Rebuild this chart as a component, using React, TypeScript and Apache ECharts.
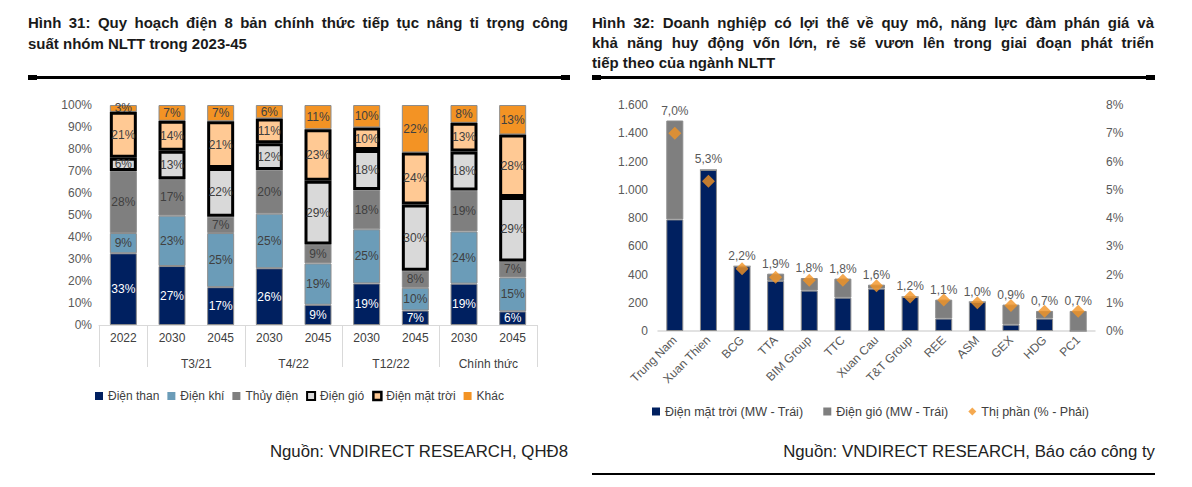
import React, { useEffect, useRef } from "react";
import * as echarts from "echarts";

const FONT = "'Liberation Sans', Arial, sans-serif";

// ---------- Left chart (Hình 31) ----------
const leftYears = ["2022", "2030", "2045", "2030", "2045", "2030", "2045", "2030", "2045"];
const leftGroupNames = ["T3/21", "T4/22", "T12/22", "Chính thức"];
const leftSeriesNames = ["Điện than", "Điện khí", "Thủy điện", "Điện gió", "Điện mặt trời", "Khác"];
const dienThan = [32.6, 26.8, 17.2, 25.8, 9.2, 18.9, 6.6, 18.8, 6.2];
const dienKhi = [9.2, 22.9, 24.6, 24.8, 18.8, 24.6, 10.3, 23.7, 15.4];
const thuyDien = [28.2, 16.6, 7.4, 19.9, 8.6, 17.9, 7.8, 18.6, 7.3];
const dienGio = [6.0, 12.9, 22.2, 12.1, 29.0, 18.1, 30.1, 17.8, 29.3];
const dienMatTroi = [20.9, 13.6, 21.2, 11.3, 23.4, 10.3, 23.6, 13.0, 28.4];
const khac = [3.1, 7.2, 7.4, 6.1, 11.0, 10.2, 21.6, 8.1, 13.4];
const groupBoundaries = [0, 1, 3, 5, 7];

// ---------- Right chart (Hình 32) ----------
const companies = ["Trung Nam", "Xuan Thien", "BCG", "TTA", "BIM Group", "TTC", "Xuan Cau", "T&T Group", "REE", "ASM", "GEX", "HDG", "PC1"];
const solarMW = [790, 1140, 458, 355, 286, 236, 300, 241, 88, 205, 45, 88, 0];
const windMW = [700, 0, 0, 51, 89, 135, 28, 0, 134, 0, 142, 54, 142];
const marketShare = [7.0, 5.3, 2.2, 1.9, 1.8, 1.8, 1.6, 1.2, 1.1, 1.0, 0.9, 0.7, 0.7];
const rightSeriesNames = ["Điện mặt trời (MW - Trái)", "Điện gió (MW - Trái)", "Thị phần (% - Phải)"];

// ---------- Texts ----------
const leftTitle = [
  "Hình 31: Quy hoạch điện 8 bản chính thức tiếp tục nâng tỉ trọng công",
  "suất nhóm NLTT trong 2023-45",
];
const rightTitle = [
  "Hình 32: Doanh nghiệp có lợi thế về quy mô, năng lực đàm phán giá và",
  "khả năng huy động vốn lớn, rẻ sẽ vươn lên trong giai đoạn phát triển",
  "tiếp theo của ngành NLTT",
];
const leftSource = "Nguồn: VNDIRECT RESEARCH, QHĐ8";
const rightSource = "Nguồn: VNDIRECT RESEARCH, Báo cáo công ty";

const C = {
  navy: "#002060",
  steel: "#6B9CB8",
  gray: "#7F7F7F",
  light: "#D9D9D9",
  peach: "#FFC994",
  orange: "#F39324",
  axis: "#D9D9D9",
  tick: "#595959",
  text: "#404040",
};

const TITLE_FONT = "bold 15px " + FONT;

function thousands(v: number) {
  return String(v).replace(/\B(?=(\d{3})+(?!\d))/g, ".");
}

let measureCtx: CanvasRenderingContext2D | null = null;
function measure(text: string, font: string) {
  if (!measureCtx) measureCtx = document.createElement("canvas").getContext("2d");
  if (!measureCtx) return text.length * 8;
  measureCtx.font = font;
  return measureCtx.measureText(text).width;
}

function titleText(text: string, x: number, y: number) {
  return {
    type: "text",
    x,
    y,
    style: { text, fill: "#1A1A1A", font: TITLE_FONT, textVerticalAlign: "middle" },
  };
}

function justifiedLine(text: string, x: number, y: number, width: number) {
  const words = text.split(" ");
  const widths = words.map((w) => measure(w, TITLE_FONT));
  const total = widths.reduce((a, b) => a + b, 0);
  const gap = (width - total) / (words.length - 1);
  const out: any[] = [];
  let cx = x;
  words.forEach((w, i) => {
    out.push(titleText(w, cx, y));
    cx += widths[i] + gap;
  });
  return out;
}

function buildOption(): any {
  const leftData = [dienThan, dienKhi, thuyDien, dienGio, dienMatTroi, khac];
  const leftColors = [C.navy, C.steel, C.gray, C.light, C.peach, C.orange];
  const leftSeries = leftData.map((d, i) => {
    const black = i === 3 || i === 4;
    return {
      name: leftSeriesNames[i],
      type: "bar",
      xAxisIndex: 0,
      yAxisIndex: 0,
      stack: "left",
      barWidth: 27,
      z: black ? 3 : 2,
      data: d,
      itemStyle: {
        color: leftColors[i],
        borderColor: black ? "#000000" : "#8C8C8C",
        borderWidth: black ? 3 : 1,
      },
      label: {
        show: true,
        position: "inside",
        fontSize: 12,
        fontFamily: FONT,
        color: i === 0 ? "#FFFFFF" : C.text,
        formatter: (p: any) => Math.round(p.value) + "%",
      },
    };
  });

  const rightSeries = [
    {
      name: rightSeriesNames[0],
      type: "bar",
      xAxisIndex: 2,
      yAxisIndex: 1,
      stack: "right",
      barWidth: 17,
      data: solarMW,
      itemStyle: { color: C.navy, borderColor: "#8C8C8C", borderWidth: 1 },
    },
    {
      name: rightSeriesNames[1],
      type: "bar",
      xAxisIndex: 2,
      yAxisIndex: 1,
      stack: "right",
      barWidth: 17,
      data: windMW,
      itemStyle: { color: C.gray, borderColor: "#8C8C8C", borderWidth: 1 },
      label: {
        show: true,
        position: "top",
        distance: 4,
        fontSize: 12,
        fontFamily: FONT,
        color: C.tick,
        formatter: (p: any) => marketShare[p.dataIndex].toFixed(1).replace(".", ",") + "%",
      },
    },
    {
      name: rightSeriesNames[2],
      type: "scatter",
      xAxisIndex: 2,
      yAxisIndex: 2,
      symbol: "diamond",
      symbolSize: 13,
      z: 5,
      data: marketShare,
      itemStyle: { color: C.orange },
    },
  ];

  const rule = (x: number, y: number, w: number) => [
    { type: "rect", shape: { x, y, width: w, height: 3 }, style: { fill: "#000" } },
    { type: "rect", shape: { x, y: y - 1, width: 9, height: 5 }, style: { fill: "#000" } },
    { type: "rect", shape: { x: x + w - 9, y: y - 1, width: 9, height: 5 }, style: { fill: "#000" } },
  ];

  return {
    animation: false,
    textStyle: { fontFamily: FONT },
    grid: [
      { left: 99, top: 105, width: 438, height: 220 },
      { left: 658, top: 105, width: 437, height: 226 },
    ],
    xAxis: [
      {
        type: "category",
        gridIndex: 0,
        data: leftYears,
        axisLine: { lineStyle: { color: C.axis } },
        axisTick: {
          show: true,
          length: 42,
          interval: (i: number) => groupBoundaries.includes(i),
          lineStyle: { color: C.axis },
        },
        axisLabel: { interval: 0, color: C.text, fontSize: 12, margin: 7 },
      },
      {
        type: "value",
        gridIndex: 0,
        position: "bottom",
        offset: 26,
        min: 0,
        max: 9,
        interval: 1,
        axisLine: { show: false },
        axisTick: { show: false },
        splitLine: { show: false },
        axisLabel: {
          color: C.text,
          fontSize: 12,
          margin: 7,
          showMinLabel: true,
          showMaxLabel: true,
          formatter: (v: number) =>
            v >= 2 && v <= 8 && v % 2 === 0 ? leftGroupNames[v / 2 - 1] : "",
        },
      },
      {
        type: "category",
        gridIndex: 1,
        data: companies,
        axisLine: { lineStyle: { color: C.axis, width: 1.5 } },
        axisTick: { show: false },
        axisLabel: { interval: 0, rotate: 45, color: C.tick, fontSize: 12, margin: 7 },
      },
    ],
    yAxis: [
      {
        type: "value",
        gridIndex: 0,
        min: 0,
        max: 100,
        interval: 10,
        axisLine: { show: false },
        axisTick: { show: false },
        splitLine: { show: false },
        axisLabel: { formatter: "{value}%", color: C.tick, fontSize: 12, margin: 7 },
      },
      {
        type: "value",
        gridIndex: 1,
        min: 0,
        max: 1600,
        interval: 200,
        axisLine: { show: false },
        axisTick: { show: false },
        splitLine: { show: false },
        axisLabel: { formatter: (v: number) => thousands(v), color: C.tick, fontSize: 12, margin: 10 },
      },
      {
        type: "value",
        gridIndex: 1,
        position: "right",
        min: 0,
        max: 8,
        interval: 1,
        axisLine: { show: false },
        axisTick: { show: false },
        splitLine: { show: false },
        axisLabel: { formatter: "{value}%", color: C.tick, fontSize: 12, margin: 11 },
      },
    ],
    legend: [
      {
        left: 95,
        top: 390,
        padding: 0,
        itemWidth: 8,
        itemHeight: 8,
        itemGap: 8,
        icon: "rect",
        textStyle: { color: C.text, fontSize: 12, fontFamily: FONT },
        data: leftSeriesNames.map((n, i) =>
          i === 3 || i === 4
            ? { name: n, itemStyle: { borderWidth: i === 3 ? 2 : 2.5 } }
            : { name: n, itemStyle: { borderWidth: 0 } }
        ),
      },
      {
        left: 652,
        top: 405,
        padding: 0,
        itemWidth: 8,
        itemHeight: 8,
        itemGap: 20,
        textStyle: { color: C.text, fontSize: 12.5, fontFamily: FONT },
        data: [
          { name: rightSeriesNames[0], icon: "rect", itemStyle: { borderWidth: 0 } },
          { name: rightSeriesNames[1], icon: "rect", itemStyle: { borderWidth: 0 } },
          { name: rightSeriesNames[2], icon: "diamond" },
        ],
      },
    ],
    series: [...leftSeries, ...rightSeries],
    graphic: [
      ...justifiedLine(leftTitle[0], 28, 22, 540),
      titleText(leftTitle[1], 28, 43),
      ...justifiedLine(rightTitle[0], 592, 22, 562),
      ...justifiedLine(rightTitle[1], 592, 42, 562),
      titleText(rightTitle[2], 592, 62),
      ...rule(28, 76, 542),
      ...rule(592, 76, 563),
      { type: "rect", shape: { x: 592, y: 473, width: 563, height: 2 }, style: { fill: "#000" } },
      {
        type: "text",
        x: 568,
        y: 451,
        style: {
          text: leftSource,
          fill: "#222222",
          font: "16.8px " + FONT,
          textAlign: "right",
          textVerticalAlign: "middle",
        },
      },
      {
        type: "text",
        x: 1155,
        y: 451,
        style: {
          text: rightSource,
          fill: "#222222",
          font: "16.8px " + FONT,
          textAlign: "right",
          textVerticalAlign: "middle",
        },
      },
    ],
  };
}

export default function App() {
  const ref = useRef<HTMLDivElement>(null);
  useEffect(() => {
    document.body.style.margin = "0";
    const chart = echarts.init(ref.current!, null, { renderer: "svg" });
    chart.setOption(buildOption());
    return () => chart.dispose();
  }, []);
  return <div ref={ref} style={{ width: 1192, height: 487, background: "#fff" }} />;
}
